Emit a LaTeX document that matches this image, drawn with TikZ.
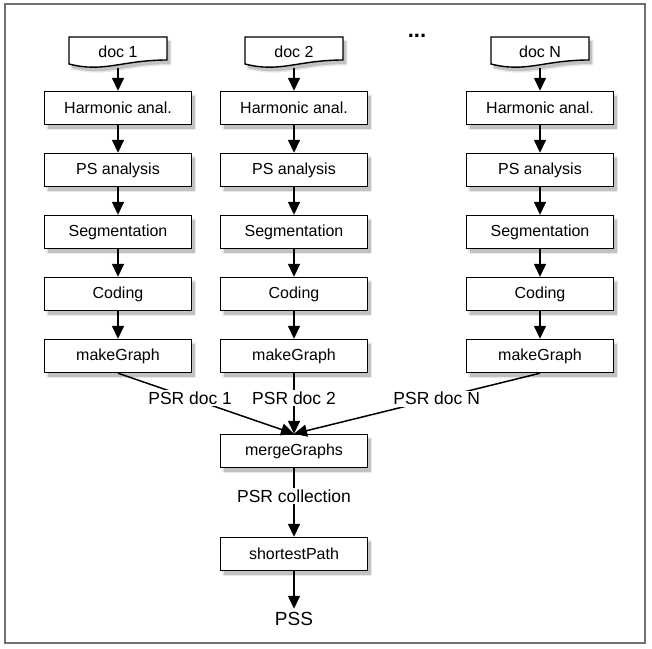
\documentclass[tikz,border=0pt]{standalone}
\usepackage{fontspec}
\setmainfont{Liberation Sans}
\usetikzlibrary{arrows.meta}
\definecolor{framegray}{HTML}{707070}

\tikzset{
  softshade/.style={fill=black!9, draw=black!9, line width=3pt, line join=round},
  coreshade/.style={fill=black!24},
  stepbox/.style={draw=black, line width=1.4pt, fill=white, minimum width=147pt, minimum height=33pt, inner sep=0pt, font=\fontsize{16}{19}\selectfont},
  docnode/.style={minimum width=98pt, minimum height=31pt, inner sep=0pt, font=\fontsize{16}{19}\selectfont},
  docpage/.style={draw=black, line width=1.4pt, fill=white},
  flow/.style={draw=black, line width=1.5pt, -{Triangle[length=13pt,width=12pt]}},
  lbl/.style={fill=white, inner sep=1.5pt, font=\fontsize{17.5}{20}\selectfont},
}

\begin{document}
\begin{tikzpicture}[x=1pt,y=-1pt]
\useasboundingbox (0,0) rectangle (652,648);
\draw[framegray, line width=1.5pt] (5,4) rectangle (645,643);

% shadows under the boxes
\foreach \x/\y in {294/451, 294/554} {
  \path[softshade] (\x-70.5,\y-12.5) rectangle (\x+76.5,\y+20.5);
  \fill[coreshade] (\x-70.5,\y-12.5) rectangle (\x+76.5,\y+20.5);
}

% one column of steps per document
\foreach \x/\k/\n in {118/1/1, 294/2/2, 540/n/N} {
  \foreach \y in {108,170,232,294,356} {
    \path[softshade] (\x-70.5,\y-12.5) rectangle (\x+76.5,\y+20.5);
    \fill[coreshade] (\x-70.5,\y-12.5) rectangle (\x+76.5,\y+20.5);
  }
  \begin{scope}[shift={(3,4)}]
    \path[softshade] (\x-49,37) -- (\x+49,37) -- (\x+49,60)
      .. controls (\x+4,60) and (\x-14,73) .. (\x-49,64) -- cycle;
    \fill[coreshade] (\x-49,37) -- (\x+49,37) -- (\x+49,60)
      .. controls (\x+4,60) and (\x-14,73) .. (\x-49,64) -- cycle;
  \end{scope}
  \draw[docpage] (\x-49,37) -- (\x+49,37) -- (\x+49,60)
    .. controls (\x+4,60) and (\x-14,73) .. (\x-49,64) -- cycle;
  \node[docnode] (doc\k) at (\x,52) {doc \n};
  \node[stepbox] (h\k)  at (\x,108) {Harmonic anal.};
  \node[stepbox] (ps\k) at (\x,170) {PS analysis};
  \node[stepbox] (sg\k) at (\x,232) {Segmentation};
  \node[stepbox] (cd\k) at (\x,294) {Coding};
  \node[stepbox] (mg\k) at (\x,356) {makeGraph};
  \draw[flow] (doc\k.south) -- (h\k.north);
  \draw[flow] (h\k) -- (ps\k);
  \draw[flow] (ps\k) -- (sg\k);
  \draw[flow] (sg\k) -- (cd\k);
  \draw[flow] (cd\k) -- (mg\k);
}
\node[font=\fontsize{22}{24}\selectfont\bfseries] (dots) at (417,36) {...};

\node[stepbox] (merge) at (294,451) {mergeGraphs};
\node[stepbox] (spath) at (294,554) {shortestPath};
\node[font=\fontsize{19}{22}\selectfont] (pss) at (294,619) {PSS};

\draw[flow] (mg1.south) -- node[lbl, pos=0.41] {PSR doc 1} (merge.north);
\draw[flow] (mg2.south) -- node[lbl, pos=0.41] {PSR doc 2} (merge.north);
\draw[flow] (mgn.south) -- node[lbl, pos=0.42] {PSR doc N} (merge.north);
\draw[flow] (merge) -- node[lbl, pos=0.41] {PSR collection} (spath);
\draw[flow] (spath) -- (pss);
\end{tikzpicture}
\end{document}
